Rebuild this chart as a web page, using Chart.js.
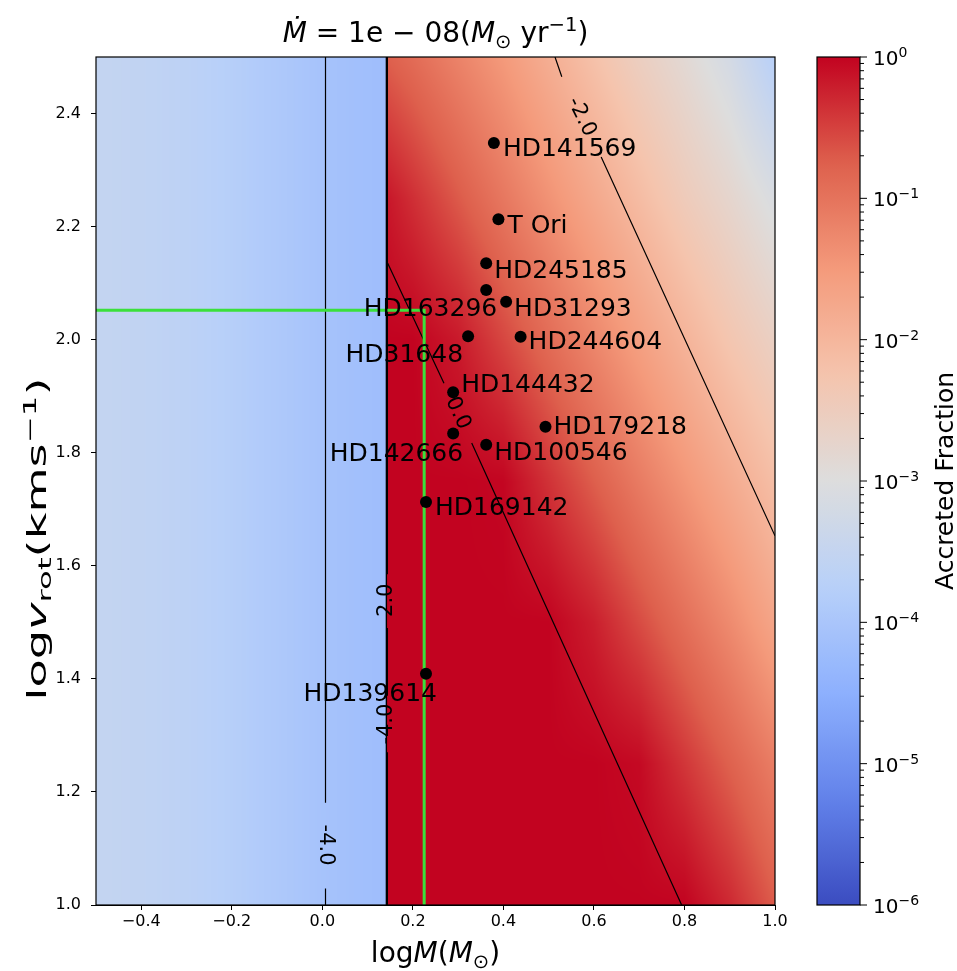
<!DOCTYPE html>
<html lang="en">
<head>
<meta charset="utf-8">
<script src="https://cdn.jsdelivr.net/npm/chart.js@4.4.1/dist/chart.umd.min.js"></script>
<title>Accreted fraction</title>
<style>
    body { margin: 0; background: #fff; }
    #wrap { width: 957px; height: 971px; }
</style>
</head>
<body>
<div id="wrap"><canvas id="myChart"></canvas></div>
<script>
    // stars: log mass (Msun) and log v_rot (km/s)
    const starNames = ["HD141569", "T Ori", "HD245185", "HD163296", "HD31293", "HD31648", "HD244604",
        "HD144432", "HD142666", "HD100546", "HD179218", "HD169142", "HD139614"];
    const starLogM = [0.379, 0.389, 0.362, 0.362, 0.406, 0.322, 0.438, 0.289, 0.289, 0.362, 0.493, 0.229, 0.229];
    const starLogV = [2.348, 2.213, 2.135, 2.088, 2.067, 2.006, 2.005, 1.907, 1.834, 1.814, 1.846, 1.713, 1.409];

    const xTicks = [-0.4, -0.2, 0.0, 0.2, 0.4, 0.6, 0.8, 1.0];
    const yTicks = [1.0, 1.2, 1.4, 1.6, 1.8, 2.0, 2.2, 2.4];
    const cbExponents = [-6, -5, -4, -3, -2, -1, 0];

    // log10 accreted fraction, on grid nodes
    const lowX = [-0.5, -0.4, -0.3, -0.2, -0.1, 0.0, 0.142];
    const lowY = [1.0, 2.5];
    const lowLogF = [
        [-3.52, -3.57, -3.65, -3.78, -3.92, -4.06, -4.19],
        [-3.52, -3.57, -3.65, -3.78, -3.92, -4.06, -4.19]
    ];
    const highX = [0.142, 0.2, 0.3, 0.4, 0.5, 0.6, 0.7, 0.8, 0.9, 1.0];
    const highY = [1.0, 1.25, 1.5, 1.75, 2.0, 2.25, 2.5];
    const highLogF = [
        [0, 0, 0, 0, 0, 0, 0, 0, -0.3, -0.72],
        [0, 0, 0, 0, 0, 0, -0.05, -0.41, -0.77, -1.13],
        [0, 0, 0, 0, 0, -0.22, -0.58, -0.94, -1.3, -1.7],
        [0, 0, 0, -0.02, -0.38, -0.74, -1.1, -1.45, -1.8, -2.15],
        [0, 0, -0.18, -0.54, -0.9, -1.25, -1.6, -1.95, -2.3, -2.6],
        [-0.15, -0.35, -0.7, -1.05, -1.4, -1.75, -2.1, -2.45, -2.75, -3.1],
        [-0.75, -0.9, -1.2, -1.5, -1.85, -2.2, -2.55, -2.85, -3.2, -3.75]
    ];

    // contour segments (y:null breaks the line where the label sits)
    const contourA = [{x: 0.007, y: 2.5}, {x: 0.007, y: 1.181}, {x: 0.007, y: null}, {x: 0.007, y: 1.029}, {x: 0.007, y: 1.0}];
    const contourB = [{x: 0.1415, y: 2.5}, {x: 0.1415, y: 1.0}];
    const contourC = [{x: 0.1435, y: 2.5}, {x: 0.1435, y: 1.585}, {x: 0.1435, y: null}, {x: 0.1435, y: 1.49},
        {x: 0.1435, y: 1.37}, {x: 0.1435, y: null}, {x: 0.1435, y: 1.27}, {x: 0.1435, y: 1.0}];
    const contourD = [{x: 0.1444, y: 2.135}, {x: 0.2687, y: 1.923}, {x: 0.3, y: null}, {x: 0.330, y: 1.817}, {x: 0.7938, y: 1.0}];
    const contourE = [{x: 0.514, y: 2.5}, {x: 0.529, y: 2.465}, {x: 0.57, y: null}, {x: 0.616, y: 2.323}, {x: 1.0, y: 1.653}];
    const contourText = ["-4.0", "2.0", "-4.0", "0.0", "-2.0"];
    const contourTextM = [0.007, 0.1425, 0.1425, 0.2994, 0.5725];
    const contourTextV = [1.106, 1.539, 1.320, 1.870, 2.394];

    const trackM = [-0.5, 0.225, 0.225];
    const trackV = [2.052, 2.052, 1.0];

    // label placement (pixels from the dot) and rotation of contour labels
    const labelOffsets = [[9, 7, "left"], [9, 7, "left"], [8, 8, "left"], [11, 20, "right"], [8, 8, "left"],
        [-5, 19, "right"], [8, 6, "left"], [8, -7, "left"], [10, 21, "right"], [8, 9, "left"],
        [8, 1, "left"], [9, 7, "left"], [11, 21, "right"]];
    const contourAngles = [90, -90, -90, 65, 64];

    const FONT = '"DejaVu Sans"';
    const cmStops = [[0, 59, 76, 192], [0.125, 98, 130, 234], [0.25, 141, 176, 254], [0.375, 184, 208, 249],
        [0.5, 221, 221, 221], [0.625, 245, 196, 173], [0.75, 244, 154, 123], [0.875, 222, 96, 77], [1, 194, 3, 32]];

    function cmap(t) {
        t = Math.min(1, Math.max(0, t));
        let i = 0;
        while (i < cmStops.length - 2 && t > cmStops[i + 1][0]) i++;
        const a = cmStops[i], b = cmStops[i + 1];
        const f = (t - a[0]) / (b[0] - a[0]);
        return [a[1] + (b[1] - a[1]) * f, a[2] + (b[2] - a[2]) * f, a[3] + (b[3] - a[3]) * f];
    }

    function seg(arr, v) {
        let i = 0;
        while (i < arr.length - 2 && v > arr[i + 1]) i++;
        const t = Math.min(1, Math.max(0, (v - arr[i]) / (arr[i + 1] - arr[i])));
        return [i, t];
    }

    function paintBlock(ctx, xs, ys, vals, sx, sy) {
        const x0 = Math.round(sx.getPixelForValue(xs[0]));
        const x1 = Math.round(sx.getPixelForValue(xs[xs.length - 1]));
        const y0 = Math.round(sy.getPixelForValue(ys[ys.length - 1]));
        const y1 = Math.round(sy.getPixelForValue(ys[0]));
        const w = x1 - x0, h = y1 - y0;
        const img = ctx.createImageData(w, h);
        for (let j = 0; j < h; j++) {
            const [r, ty] = seg(ys, sy.getValueForPixel(y0 + j + 0.5));
            for (let i = 0; i < w; i++) {
                const [c, tx] = seg(xs, sx.getValueForPixel(x0 + i + 0.5));
                const v0 = vals[r][c] + (vals[r][c + 1] - vals[r][c]) * tx;
                const v1 = vals[r + 1][c] + (vals[r + 1][c + 1] - vals[r + 1][c]) * tx;
                const v = v0 + (v1 - v0) * ty;
                const col = cmap((v + 6) / 6);
                const k = (j * w + i) * 4;
                img.data[k] = col[0]; img.data[k + 1] = col[1]; img.data[k + 2] = col[2]; img.data[k + 3] = 255;
            }
        }
        ctx.putImageData(img, x0, y0);
    }

    // text with italic / sub / sup pieces; sx stretches along the text direction
    function rich(ctx, parts, x, y, size, align, sx) {
        sx = sx || 1;
        const fnt = p => {
            const small = p.s === "sub" || p.s === "sup";
            return (p.i ? "italic " : "") + (small ? size * 0.7 : size) + "px " + FONT;
        };
        let w = 0;
        parts.forEach(p => { ctx.font = fnt(p); p.w = ctx.measureText(p.t).width; w += p.w; });
        ctx.save();
        ctx.translate(x, y);
        ctx.scale(sx, 1);
        let cx = align === "center" ? -w / 2 : (align === "right" ? -w : 0);
        ctx.textAlign = "left";
        ctx.textBaseline = "alphabetic";
        parts.forEach(p => {
            ctx.font = fnt(p);
            const dy = p.s === "sup" ? -size * 0.4 : (p.s === "sub" ? size * 0.2 : 0);
            ctx.fillText(p.t, cx, dy);
            cx += p.w;
        });
        ctx.restore();
    }

    const fmt = v => (v < -1e-9 ? "\u2212" : "") + Math.abs(v).toFixed(1);

    const fieldPlugin = {
        id: "field",
        beforeDatasetsDraw(chart) {
            const {ctx, scales} = chart;
            paintBlock(ctx, lowX, lowY, lowLogF, scales.x, scales.y);
            paintBlock(ctx, highX, highY, highLogF, scales.x, scales.y);
        }
    };

    const decorPlugin = {
        id: "decor",
        afterDraw(chart) {
            const {ctx, chartArea: a, scales} = chart;
            ctx.save();
            ctx.fillStyle = "#000";
            ctx.strokeStyle = "#000";

            // contour labels
            ctx.font = "21px " + FONT;
            ctx.textAlign = "center";
            ctx.textBaseline = "middle";
            contourText.forEach((t, i) => {
                ctx.save();
                ctx.translate(scales.x.getPixelForValue(contourTextM[i]), scales.y.getPixelForValue(contourTextV[i]));
                ctx.rotate(contourAngles[i] * Math.PI / 180);
                ctx.fillText(t, 0, 0);
                ctx.restore();
            });

            // star names
            ctx.font = "25px " + FONT;
            const meta = chart.getDatasetMeta(0);
            starNames.forEach((n, i) => {
                const p = meta.data[i];
                const o = labelOffsets[i];
                ctx.textAlign = o[2];
                ctx.textBaseline = "middle";
                ctx.fillText(n, p.x + o[0], p.y + o[1]);
            });

            // frame
            ctx.lineWidth = 1.2;
            ctx.strokeRect(a.left, a.top, a.right - a.left, a.bottom - a.top);

            // title and axis titles
            rich(ctx, [{t: "\u1E40", i: true}, {t: " = 1e \u2212 08("}, {t: "M", i: true}, {t: "\u2299", s: "sub"},
                {t: " yr"}, {t: "\u22121", s: "sup"}, {t: ")"}], (a.left + a.right) / 2, 42, 28, "center");
            rich(ctx, [{t: "log"}, {t: "M", i: true}, {t: "("}, {t: "M", i: true}, {t: "\u2299", s: "sub"}, {t: ")"}],
                (a.left + a.right) / 2, 962, 28, "center");
            ctx.save();
            ctx.translate(46, 539);
            ctx.rotate(-Math.PI / 2);
            rich(ctx, [{t: "log"}, {t: "v", i: true}, {t: "rot", s: "sub"}, {t: "(kms"}, {t: "\u22121", s: "sup"}, {t: ")"}],
                0, 0, 26, "center", 1.78);
            ctx.restore();

            // colorbar
            const cb = scales.cb;
            const cx0 = 817, cx1 = 860;
            const top = cb.getPixelForValue(1), bot = cb.getPixelForValue(1e-6);
            const g = ctx.createLinearGradient(0, bot, 0, top);
            for (let k = 0; k <= 60; k++) {
                const c = cmap(k / 60);
                g.addColorStop(k / 60, "rgb(" + c.map(Math.round).join(",") + ")");
            }
            ctx.fillStyle = g;
            ctx.fillRect(cx0, top, cx1 - cx0, bot - top);
            ctx.lineWidth = 1.2;
            ctx.strokeRect(cx0, top, cx1 - cx0, bot - top);
            ctx.fillStyle = "#000";
            ctx.lineWidth = 1;
            ctx.beginPath();
            cbExponents.forEach(e => {
                const y = cb.getPixelForValue(Math.pow(10, e));
                ctx.moveTo(cx1, y); ctx.lineTo(cx1 + 7, y);
                if (e < 0) {
                    for (let m = 2; m <= 9; m++) {
                        const ym = cb.getPixelForValue(m * Math.pow(10, e));
                        ctx.moveTo(cx1, ym); ctx.lineTo(cx1 + 4, ym);
                    }
                }
            });
            ctx.stroke();
            cbExponents.forEach(e => {
                const y = cb.getPixelForValue(Math.pow(10, e));
                rich(ctx, [{t: "10"}, {t: e === 0 ? "0" : "\u2212" + (-e), s: "sup"}], 873, y + 8, 20, "left");
            });
            ctx.save();
            ctx.translate(953, (top + bot) / 2);
            ctx.rotate(-Math.PI / 2);
            ctx.font = "25px " + FONT;
            ctx.textAlign = "center";
            ctx.textBaseline = "alphabetic";
            ctx.fillText("Accreted Fraction", 0, 0);
            ctx.restore();
            ctx.restore();
        }
    };

    const lineSet = (data, width, order) => ({
        type: "line", data: data, borderColor: "#000", borderWidth: width, pointRadius: 0,
        spanGaps: false, fill: false, order: order
    });

    const chart = new Chart("myChart", {
        type: "scatter",
        data: {
            datasets: [
                {
                    data: starLogM.map((m, i) => ({x: m, y: starLogV[i]})),
                    backgroundColor: "#000", borderWidth: 0, pointRadius: 6, order: 0
                },
                {
                    type: "line", data: trackM.map((m, i) => ({x: m, y: trackV[i]})),
                    borderColor: "#3be03b", borderWidth: 3, pointRadius: 0, fill: false, order: 1
                },
                lineSet(contourA, 1.2, 2),
                lineSet(contourB, 1.4, 2),
                lineSet(contourC, 1.4, 2),
                lineSet(contourD, 1.2, 2),
                lineSet(contourE, 1.2, 2)
            ]
        },
        options: {
            responsive: true,
            maintainAspectRatio: false,
            animation: false,
            events: [],
            layout: {padding: {top: 57, left: 0, right: 0, bottom: 0}},
            plugins: {legend: {display: false}, title: {display: false}, tooltip: {enabled: false}},
            scales: {
                x: {
                    type: "linear", min: -0.5, max: 1.0,
                    afterBuildTicks: s => { s.ticks = xTicks.map(v => ({value: v})); },
                    afterFit: s => { s.height = 66; },
                    ticks: {callback: v => fmt(v), font: {family: "DejaVu Sans", size: 16}, color: "#000",
                        padding: 2, maxRotation: 0, autoSkip: false},
                    grid: {drawOnChartArea: false, color: "#000", tickLength: 5},
                    border: {color: "#000", width: 1}
                },
                y: {
                    type: "linear", min: 1.0, max: 2.5,
                    afterBuildTicks: s => { s.ticks = yTicks.map(v => ({value: v})); },
                    afterFit: s => { s.width = 96; },
                    ticks: {callback: v => fmt(v), font: {family: "DejaVu Sans", size: 16}, color: "#000",
                        padding: 10, autoSkip: false},
                    grid: {drawOnChartArea: false, color: "#000", tickLength: 5},
                    border: {color: "#000", width: 1}
                },
                cb: {
                    type: "logarithmic", position: "right", min: 1e-6, max: 1,
                    afterFit: s => { s.width = 182; },
                    ticks: {display: false}, grid: {display: false}, border: {display: false}
                }
            }
        },
        plugins: [fieldPlugin, decorPlugin]
    });
</script>
</body>
</html>
